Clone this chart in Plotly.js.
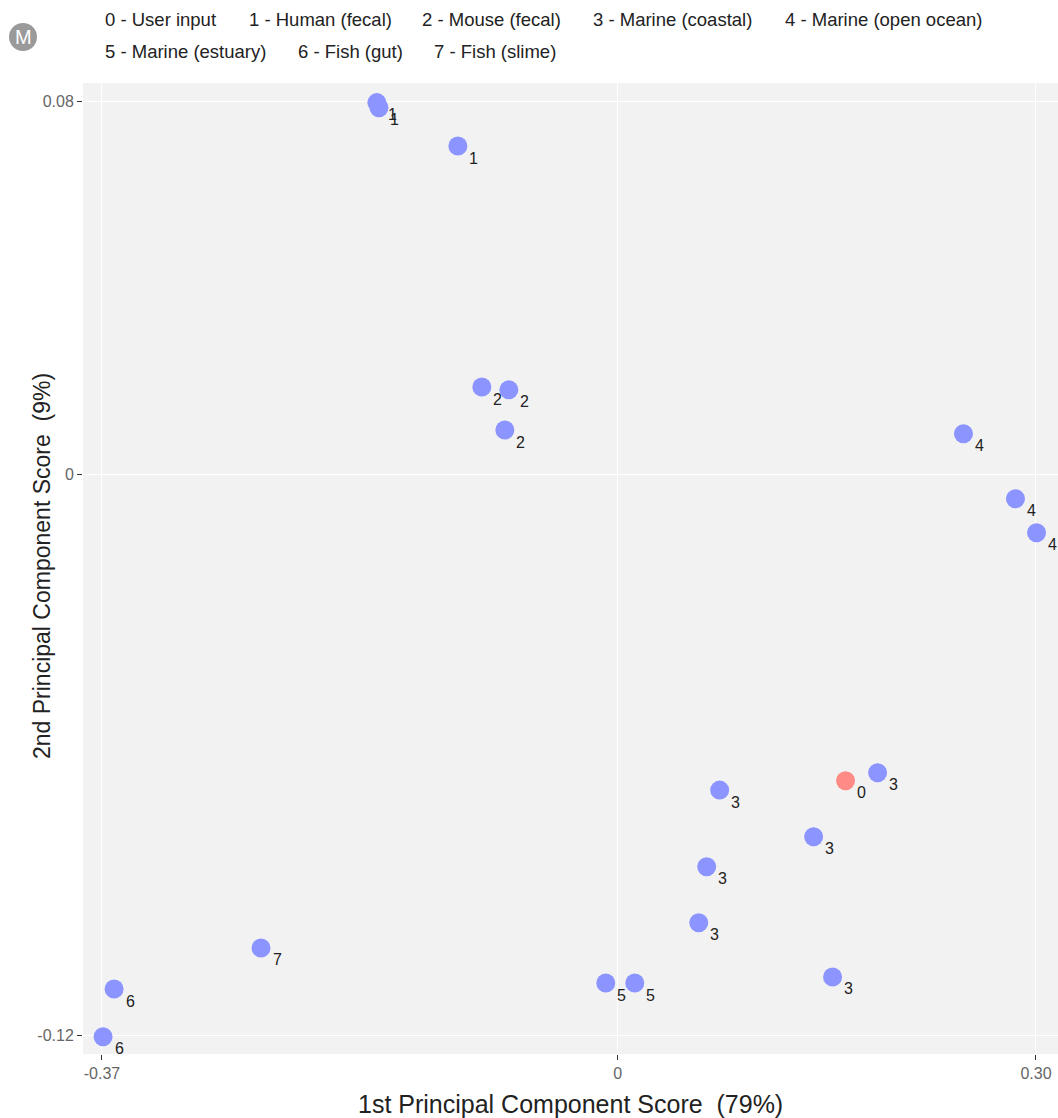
<!DOCTYPE html>
<html>
<head>
<meta charset="utf-8">
<script src="https://cdn.plot.ly/plotly-3.0.1.min.js"></script>
<style>html,body{margin:0;padding:0;background:#fff;}#chart{width:1058px;height:1118px;}</style>
</head>
<body>
<div id="chart"></div>
<script>
// Group codes shown in the header legend
var groupCodes = ["0","1","2","3","4","5","6","7"];
var groupNames = ["User input","Human (fecal)","Mouse (fecal)","Marine (coastal)","Marine (open ocean)","Marine (estuary)","Fish (gut)","Fish (slime)"];

// Sample scores (PC1, PC2) and their group code
var sampleGroup = ["1","1","1","2","2","2","4","4","4","3","3","3","3","3","3","0","5","5","6","6","7"];
var pc1 = [-0.1728,-0.1713,-0.1147,-0.0975,-0.0781,-0.0810,0.2480,0.2853,0.3004,0.1864,0.0731,0.1405,0.0638,0.0581,0.1541,0.1634,-0.0086,0.0122,-0.3613,-0.3692,-0.2559];
var pc2 = [0.0797,0.0786,0.0704,0.0188,0.0182,0.0096,0.0088,-0.0051,-0.0124,-0.0638,-0.0675,-0.0775,-0.0839,-0.0959,-0.1075,-0.0655,-0.1088,-0.1088,-0.1101,-0.1203,-0.1013];

var xTicks = [-0.37, 0, 0.30];
var xTickText = ["-0.37","0","0.30"];
var yTicks = [0.08, 0, -0.12];
var yTickText = ["0.08","0","-0.12"];

var xTitle = "1st Principal Component Score  (79%)";
var yTitle = "2nd Principal Component Score  (9%)";

var W = 1058, H = 1118, L = 83, R = 0, T = 83, B = 64;
var pw = W - L - R, ph = H - T - B;
function px(x){ return (x - L) / pw; }
function py(y){ return (H - B - y) / ph; }

var userIdx = [], refIdx = [];
sampleGroup.forEach(function(g,i){ (g === "0" ? userIdx : refIdx).push(i); });
function pick(arr, idx){ return idx.map(function(i){ return arr[i]; }); }

var traces = [
  {
    type: "scatter", mode: "markers",
    x: pick(pc1, refIdx), y: pick(pc2, refIdx),
    marker: {size: 19, color: "#8c94ff"},
    hoverinfo: "x+y", showlegend: false, cliponaxis: false
  },
  {
    type: "scatter", mode: "markers",
    x: pick(pc1, userIdx), y: pick(pc2, userIdx),
    marker: {size: 19, color: "#ff8a86"},
    hoverinfo: "x+y", showlegend: false, cliponaxis: false
  }
];

// point labels (group code next to each point)
var annotations = pc1.map(function(x,i){
  return {
    xref: "x", yref: "y", x: x, y: pc2[i], text: sampleGroup[i],
    showarrow: false, xanchor: "center", yanchor: "middle",
    xshift: 16, yshift: -12,
    font: {family: "Liberation Sans, Arial, sans-serif", size: 16, color: "#222"}
  };
});

// header legend annotations
var legendPos = [[103,20],[247,20],[420,20],[591,20],[783,20],[103,52],[296,52],[432,52]];
groupCodes.forEach(function(c,i){
  annotations.push({
    xref: "paper", yref: "paper",
    x: px(legendPos[i][0]), y: py(legendPos[i][1]),
    xanchor: "left", yanchor: "middle",
    text: c + " - " + groupNames[i], showarrow: false,
    font: {family: "Liberation Sans, Arial, sans-serif", size: 18.5, color: "#222"}
  });
});
annotations.push({
  xref: "paper", yref: "paper", x: px(23), y: py(37),
  xanchor: "center", yanchor: "middle", text: "M", showarrow: false,
  font: {family: "Liberation Sans, Arial, sans-serif", size: 20, color: "#fff"}
});
// axis titles
annotations.push({
  xref: "paper", yref: "paper", x: px(570), y: py(1104),
  xanchor: "center", yanchor: "middle", text: xTitle, showarrow: false,
  font: {family: "Liberation Sans, Arial, sans-serif", size: 25, color: "#222"}
});
annotations.push({
  xref: "paper", yref: "paper", x: px(42), y: py(566),
  xanchor: "center", yanchor: "middle", text: yTitle, showarrow: false, textangle: -90,
  font: {family: "Liberation Sans, Arial, sans-serif", size: 23, color: "#222"}
});

var layout = {
  width: W, height: H,
  margin: {l: L, r: R, t: T, b: B},
  paper_bgcolor: "#ffffff", plot_bgcolor: "#f2f2f2",
  font: {family: "Liberation Sans, Arial, sans-serif", color: "#222"},
  xaxis: {
    range: [-0.3836, 0.3158], tickvals: xTicks, ticktext: xTickText,
    ticks: "outside", ticklen: 5, tickcolor: "#333", tickwidth: 1,
    tickfont: {size: 16, color: "#666"},
    showgrid: true, gridcolor: "#ffffff", gridwidth: 1, zeroline: false, showline: false,
    automargin: false, fixedrange: true
  },
  yaxis: {
    range: [-0.124, 0.0839], tickvals: yTicks, ticktext: yTickText,
    ticks: "outside", ticklen: 5, tickcolor: "#333", tickwidth: 1,
    tickfont: {size: 16, color: "#666"},
    showgrid: true, gridcolor: "#ffffff", gridwidth: 1, zeroline: false, showline: false,
    automargin: false, fixedrange: true
  },
  shapes: [{
    type: "circle", xref: "paper", yref: "paper",
    x0: px(9), x1: px(37), y0: py(51), y1: py(23),
    fillcolor: "#9a9a9a", line: {width: 0}
  }],
  annotations: annotations
};

Plotly.newPlot("chart", traces, layout, {displayModeBar: false, staticPlot: true});
</script>
</body>
</html>
